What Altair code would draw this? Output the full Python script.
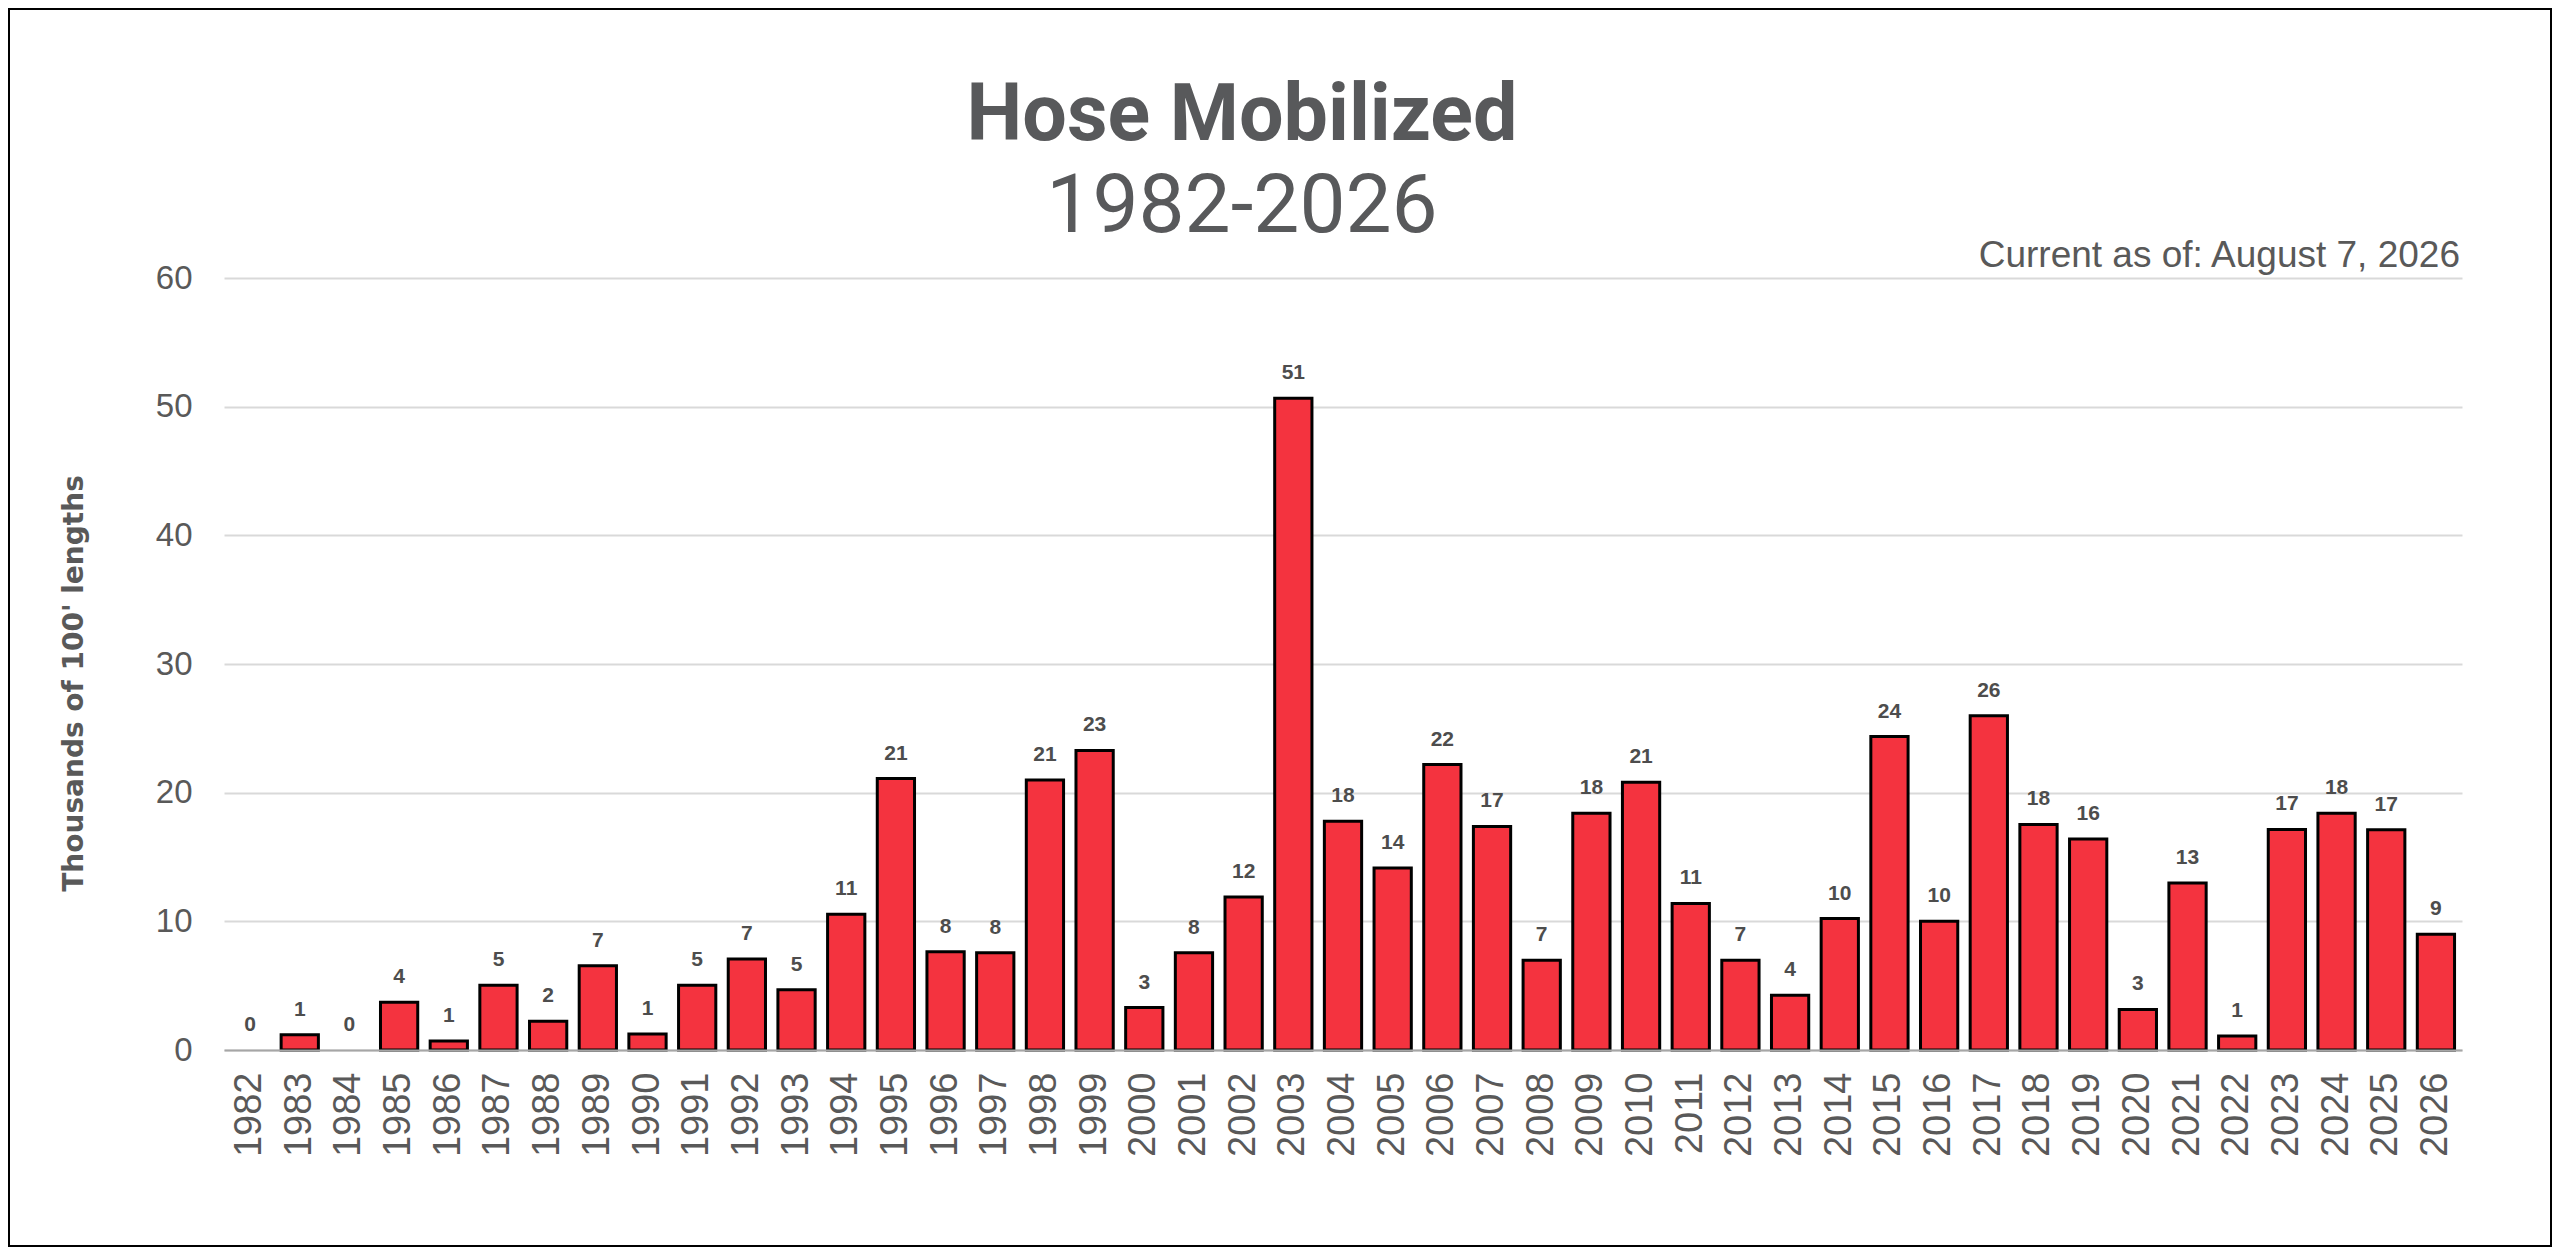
import altair as alt
import pandas as pd

years = [str(y) for y in range(1982, 2027)]
values = [0, 1.18, 0, 3.72, 0.69, 5.04, 2.23, 6.55, 1.24, 5.04,
          7.08, 4.68, 10.55, 21.1, 7.64, 7.55, 20.98, 23.28, 3.3, 7.55,
          11.9, 50.66, 17.77, 14.14, 22.18, 17.38, 6.98, 18.4, 20.8, 11.39,
          6.98, 4.26, 10.22, 24.36, 10.01, 25.98, 17.53, 16.39, 3.15, 12.98,
          1.08, 17.14, 18.4, 17.11, 8.99]
labels = ["0", "1", "0", "4", "1", "5", "2", "7", "1", "5",
          "7", "5", "11", "21", "8", "8", "21", "23", "3", "8",
          "12", "51", "18", "14", "22", "17", "7", "18", "21", "11",
          "7", "4", "10", "24", "10", "26", "18", "16", "3", "13",
          "1", "17", "18", "17", "9"]

title = "Hose Mobilized"
subtitle = "1982-2026"
note = "Current as of: August 7, 2026"
y_title = "Thousands of 100' lengths"

df = pd.DataFrame({"year": years, "value": values, "label": labels})

W, H = 2238, 772
PL, PT, PR, PB = 216, 270, 90, 197
GRAY = "#595959"

x_scale = alt.Scale(paddingInner=0.25, paddingOuter=0.15)
x_enc = alt.X("year:N", sort=years, title=None, scale=x_scale,
              axis=alt.Axis(labelAngle=-90, labelFontSize=38, labelFont="Liberation Sans",
                            labelColor=GRAY, labelPadding=22, tickSize=0,
                            domain=True, domainColor="#A6A6A6", domainWidth=2,
                            grid=False, zindex=1))
y_enc = alt.Y("value:Q", title=y_title,
              scale=alt.Scale(domain=[0, 60], nice=False),
              axis=alt.Axis(values=[0, 10, 20, 30, 40, 50, 60], labelFontSize=33,
                            labelFont="Liberation Sans", labelColor=GRAY, labelPadding=32,
                            tickSize=0, domain=False, grid=True, gridColor="#D9D9D9",
                            gridWidth=2, titleFont="DejaVu Sans", titleFontSize=28,
                            titleFontWeight="bold", titleColor=GRAY, titleAngle=-90,
                            titleX=-150, titleY=405, titleAlign="center",
                            titleBaseline="middle"))

base = alt.Chart(df)
bars = base.mark_bar(fill="#F4333F", stroke="black", strokeWidth=3).encode(
    x=x_enc, y=y_enc).transform_filter("datum.value > 0")
text = base.mark_text(baseline="bottom", dy=-15, fontSize=21, fontWeight="bold",
                      font="Liberation Sans", color="#4D4D4D").encode(
    x=alt.X("year:N", sort=years, scale=x_scale), y=alt.Y("value:Q"), text="label:N")

tdf = pd.DataFrame({"t": [title]})
t1 = alt.Chart(tdf).mark_text(text=title, font="Roboto", fontSize=79, fontWeight="bold",
                              color="#58595B", align="center", baseline="alphabetic").encode(
    x=alt.value(1018), y=alt.value(-138))
t2 = alt.Chart(tdf).mark_text(text=subtitle, font="Roboto", fontSize=82,
                              color="#58595B", align="center", baseline="alphabetic").encode(
    x=alt.value(1018), y=alt.value(-46))
t3 = alt.Chart(tdf).mark_text(text=note, font="Liberation Sans", fontSize=37,
                              color=GRAY, align="right", baseline="alphabetic").encode(
    x=alt.value(2236), y=alt.value(-11))
frame = alt.Chart(tdf).mark_rect(fill=None, stroke="black", strokeWidth=2).encode(
    x=alt.value(-PL + 1), x2=alt.value(W + PR - 1),
    y=alt.value(-PT + 1), y2=alt.value(H + PB - 1))

chart = alt.layer(bars, text, t1, t2, t3, frame).properties(
    width=W, height=H,
    autosize=alt.AutoSizeParams(type="none"),
    padding={"left": PL, "top": PT, "right": PR, "bottom": PB},
    background="white",
).configure_view(stroke=None)

chart.save("out.html", embed_options={"renderer": "svg", "actions": False})
